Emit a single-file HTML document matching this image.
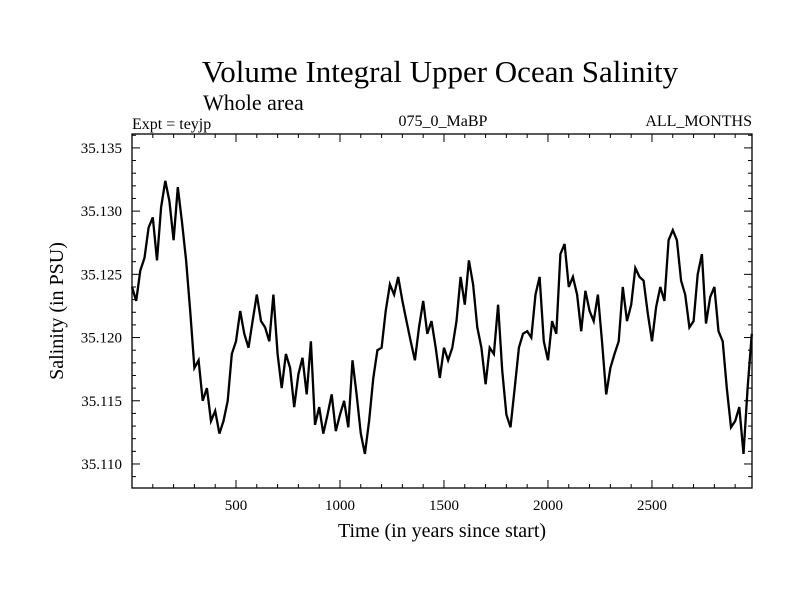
<!DOCTYPE html>
<html><head><meta charset="utf-8"><style>
html,body{margin:0;padding:0;background:#fff;}
svg{display:block;font-family:"Liberation Serif",serif;}
</style></head><body>
<svg id="chart" width="800" height="600" viewBox="0 0 800 600">
<text x="440" y="82" font-size="31" text-anchor="middle">Volume Integral Upper Ocean Salinity</text>
<text x="203" y="110" font-size="22">Whole area</text>
<text x="132" y="129" font-size="16">Expt = teyjp</text>
<text x="443" y="126" font-size="16" text-anchor="middle">075_0_MaBP</text>
<text x="752" y="126" font-size="16" text-anchor="end">ALL_MONTHS</text>
<text x="442" y="537" font-size="20" text-anchor="middle">Time (in years since start)</text>
<text transform="translate(63,311) rotate(-90)" font-size="20" text-anchor="middle">Salinity (in PSU)</text>
<g id="axes"></g>
<g id="series"></g>
</svg>
<script>
const yearStep = 20;
const salinity = [
35.1240,35.1229,35.1253,35.1263,35.1287,35.1295,35.1261,35.1303,35.1324,35.1308,
35.1277,35.1319,35.1292,35.1261,35.1221,35.1176,35.1182,35.1150,35.1160,35.1134,
35.1142,35.1124,35.1134,35.1150,35.1187,35.1197,35.1221,35.1203,35.1192,35.1213,
35.1234,35.1213,35.1208,35.1197,35.1234,35.1187,35.1160,35.1187,35.1176,35.1145,
35.1171,35.1184,35.1155,35.1197,35.1131,35.1145,35.1124,35.1139,35.1155,35.1126,
35.1139,35.1150,35.1129,35.1182,35.1155,35.1124,35.1108,35.1134,35.1168,35.1190,
35.1192,35.1221,35.1242,35.1234,35.1248,35.1229,35.1213,35.1197,35.1182,35.1208,
35.1229,35.1203,35.1213,35.1192,35.1168,35.1192,
35.1182,35.1192,35.1213,35.1248,35.1226,35.1261,35.1242,35.1208,35.1192,35.1163,
35.1192,35.1187,35.1226,35.1174,35.1139,35.1129,35.1160,35.1192,35.1203,35.1205,
35.1200,35.1234,35.1248,35.1197,35.1182,35.1213,35.1203,35.1266,35.1274,35.1240,
35.1248,35.1234,35.1205,35.1237,35.1221,35.1213,35.1234,35.1197,35.1155,35.1176,
35.1187,35.1197,35.1240,35.1213,35.1226,35.1255,35.1248,35.1245,35.1219,35.1197,
35.1224,35.1240,35.1229,35.1277,35.1285,35.1277,35.1245,35.1234,35.1208,35.1213,
35.1250,35.1266,35.1211,35.1232,35.1240,35.1205,35.1197,35.1160,35.1129,35.1134,
35.1145,35.1108,35.1160,35.1203];
const xTickLabels = ["500","1000","1500","2000","2500"];
const xTickValues = [500,1000,1500,2000,2500];
const yTickLabels = ["35.110","35.115","35.120","35.125","35.130","35.135"];
const yTickValues = [35.110,35.115,35.120,35.125,35.130,35.135];

const L=132,R=752,T=134,B=488;
const xMin=0,xMax=2981,yMin=35.1081,yMax=35.1361;
function xs(v){return L+(v-xMin)/(xMax-xMin)*(R-L);}
function ys(v){return B-(v-yMin)/(yMax-yMin)*(B-T);}
const NS="http://www.w3.org/2000/svg";
const axes=document.getElementById('axes');
function mk(tag,attrs,parent){const e=document.createElementNS(NS,tag);for(const k in attrs)e.setAttribute(k,attrs[k]);parent.appendChild(e);return e;}

const frame=mk('rect',{x:L,y:T,width:R-L,height:B-T,fill:'none',stroke:'#000','stroke-width':1.3},axes);



for(let v=100;v<xMax;v+=100){
  const x=xs(v);const len=(v%500===0)?8:4;
  const t1=mk('line',{x1:x,y1:B,x2:x,y2:B-len,stroke:'#000','stroke-width':1},axes);
  
  
  const t2=mk('line',{x1:x,y1:T,x2:x,y2:T+len,stroke:'#000','stroke-width':1},axes);
  
  
}
xTickValues.forEach((v,i)=>{
  const t=mk('text',{x:xs(v),y:510,'font-size':15,'text-anchor':'middle'},axes);
  t.textContent=xTickLabels[i];
  
  
});
for(let k=0;k<=27;k++){
  const v=35.109+k*0.001;
  if(v>yMax)break;
  const y=ys(v);const major=(k%5===1);const len=major?8:4;
  const t1=mk('line',{x1:L,y1:y,x2:L+len,y2:y,stroke:'#000','stroke-width':1},axes);
  
  
  const t2=mk('line',{x1:R,y1:y,x2:R-len,y2:y,stroke:'#000','stroke-width':1},axes);
  
  
}
yTickValues.forEach((v,i)=>{
  const t=mk('text',{x:122,y:ys(v)+5,'font-size':15,'text-anchor':'end'},axes);
  t.textContent=yTickLabels[i];
  
  
});

const pts=salinity.map((v,i)=>xs(i*yearStep).toFixed(1)+','+ys(v).toFixed(1)).join(' ');
const line=mk('polyline',{points:pts,fill:'none',stroke:'#000','stroke-width':2.3,'stroke-linejoin':'miter'},document.getElementById('series'));


</script>
</body></html>
